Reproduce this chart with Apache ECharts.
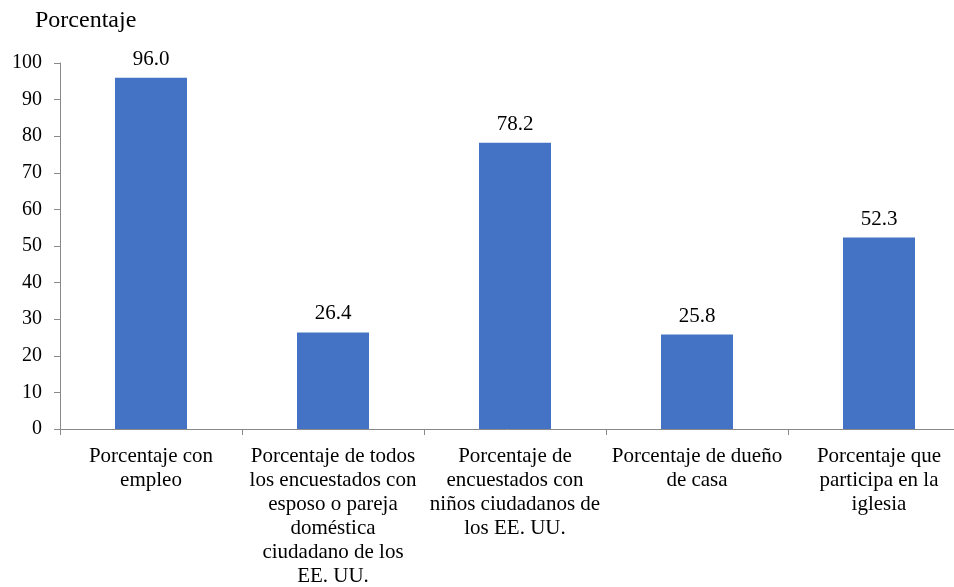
<!DOCTYPE html>
<html>
<head>
<meta charset="utf-8">
<script src="https://cdn.jsdelivr.net/npm/echarts@6/dist/echarts.min.js"></script>
<style>
  html, body { margin: 0; padding: 0; background: #fff; }
  #chart { width: 954px; height: 587px; }
</style>
</head>
<body>
<div id="chart"></div>
<script>
// Categories (line breaks as they wrap under each bar)
const categories = [
  'Porcentaje con\nempleo',
  'Porcentaje de todos\nlos encuestados con\nesposo o pareja\ndoméstica\nciudadano de los\nEE. UU.',
  'Porcentaje de\nencuestados con\nniños ciudadanos de\nlos EE. UU.',
  'Porcentaje de dueño\nde casa',
  'Porcentaje que\nparticipa en la\niglesia'
];
const values = [96.0, 26.4, 78.2, 25.8, 52.3];
const yAxisName = 'Porcentaje';

const font = '"Liberation Serif", "Times New Roman", serif';
const axisGray = '#898989';

const chart = echarts.init(document.getElementById('chart'), null, { renderer: 'canvas' });
chart.setOption({
  animation: false,
  backgroundColor: '#ffffff',
  textStyle: { fontFamily: font },
  grid: { left: 60, top: 63, width: 910, bottom: 158, containLabel: false, outerBoundsMode: 'none' },
  xAxis: {
    type: 'category',
    data: categories,
    axisLine: { show: true, lineStyle: { color: axisGray, width: 1 } },
    axisTick: { show: true, alignWithLabel: false, length: 6, lineStyle: { color: axisGray } },
    axisLabel: {
      interval: 0,
      margin: 15,
      color: '#000',
      fontFamily: font,
      fontSize: 21,
      lineHeight: 24,
      align: 'center'
    }
  },
  yAxis: {
    type: 'value',
    min: 0,
    max: 100,
    interval: 10,
    name: yAxisName,
    nameLocation: 'end',
    nameGap: 30,
    nameTextStyle: { color: '#000', fontFamily: font, fontSize: 24, align: 'left', padding: [0, 0, 0, -25] },
    splitLine: { show: false },
    axisLine: { show: true, lineStyle: { color: axisGray, width: 1 } },
    axisTick: { show: true, length: 6, lineStyle: { color: axisGray } },
    axisLabel: { color: '#000', fontFamily: font, fontSize: 20, margin: 18 }
  },
  series: [{
    type: 'bar',
    data: values,
    barWidth: 72,
    itemStyle: { color: '#4472C4' },
    label: {
      show: true,
      position: 'top',
      distance: 8,
      color: '#000',
      fontFamily: font,
      fontSize: 21,
      formatter: p => p.value.toFixed(1)
    }
  }]
});
</script>
</body>
</html>
